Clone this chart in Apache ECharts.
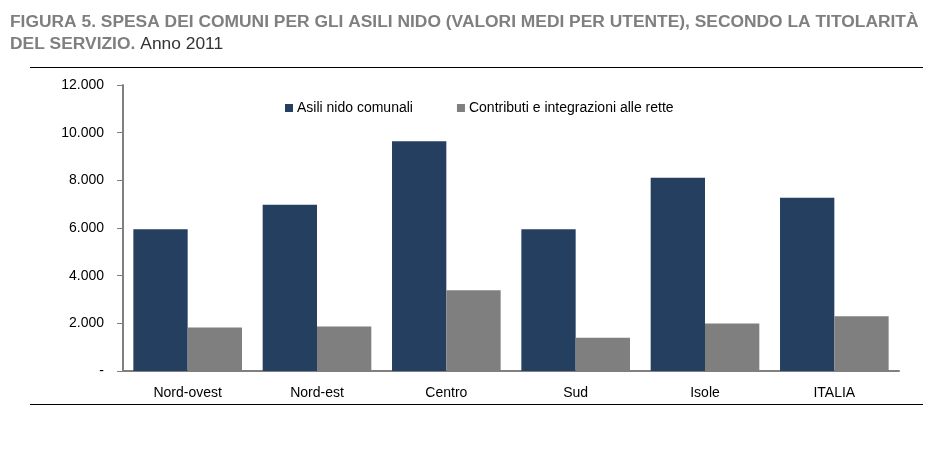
<!DOCTYPE html>
<html>
<head>
<meta charset="utf-8">
<script src="https://cdn.jsdelivr.net/npm/echarts@6/dist/echarts.min.js"></script>
<style>
html,body{margin:0;padding:0;background:#fff;}
#c{width:949px;height:460px;}
</style>
</head>
<body>
<div id="c"></div>
<script>
const categories = ['Nord-ovest', 'Nord-est', 'Centro', 'Sud', 'Isole', 'ITALIA'];
const seriesNames = ['Asili nido comunali', 'Contributi e integrazioni alle rette'];
const asiliComunali = [5950, 6980, 9640, 5950, 8110, 7270];
const contributi = [1820, 1870, 3390, 1400, 1990, 2300];
const yTicks = { min: 0, max: 12000, interval: 2000 };

const FONT = '"Liberation Sans Narrow", "Arial Narrow", "Liberation Sans", Arial, sans-serif';

function fmt(v) {
  if (v === 0) return '-';
  return String(v).replace(/\B(?=(\d{3})+(?!\d))/g, '.');
}

const chart = echarts.init(document.getElementById('c'), null, { renderer: 'canvas' });
chart.setOption({
  backgroundColor: '#fff',
  animation: false,
  title: {
    left: 5,
    top: 6,
    text: '{b|FIGURA 5. SPESA DEI COMUNI PER GLI ASILI NIDO (VALORI MEDI PER UTENTE), SECONDO LA TITOLARITÀ}\n{b|DEL SERVIZIO.} {n|Anno 2011}',
    textStyle: {
      fontFamily: FONT,
      lineHeight: 22,
      rich: {
        b: { fontFamily: FONT, fontWeight: 'bold', fontSize: 17.4, color: '#7f7f7f', lineHeight: 22 },
        n: { fontFamily: FONT, fontWeight: 'normal', fontSize: 17.4, color: '#333', lineHeight: 22 }
      }
    }
  },
  graphic: [
    { type: 'line', shape: { x1: 30, y1: 67.5, x2: 923, y2: 67.5 }, style: { stroke: '#000', lineWidth: 1.2 } },
    { type: 'line', shape: { x1: 30, y1: 404.5, x2: 923, y2: 404.5 }, style: { stroke: '#000', lineWidth: 1.2 } }
  ],
  legend: {
    top: 96,
    left: 280,
    itemWidth: 8,
    itemHeight: 8,
    itemGap: 44,
    icon: 'rect',
    textStyle: { fontFamily: FONT, fontSize: 14, color: '#000', padding: [0, 0, 0, -1] },
    data: seriesNames
  },
  grid: { left: 123, right: 50, top: 85, bottom: 89 },
  xAxis: {
    type: 'category',
    data: categories,
    axisLine: { lineStyle: { color: '#808080', width: 2 } },
    axisTick: { show: false },
    axisLabel: { fontFamily: FONT, fontSize: 14, color: '#000', margin: 15 }
  },
  yAxis: {
    type: 'value',
    min: yTicks.min,
    max: yTicks.max,
    interval: yTicks.interval,
    splitLine: { show: false },
    axisLine: { show: true, lineStyle: { color: '#808080', width: 2 } },
    axisTick: { show: true, length: 6, lineStyle: { color: '#808080', width: 1 } },
    axisLabel: { fontFamily: FONT, fontSize: 14, color: '#000', margin: 19, formatter: fmt }
  },
  series: [
    {
      name: seriesNames[0], type: 'bar', data: asiliComunali,
      itemStyle: { color: '#243f60' },
      barGap: '0%', barCategoryGap: '16%'
    },
    {
      name: seriesNames[1], type: 'bar', data: contributi,
      itemStyle: { color: '#7f7f7f' },
      barGap: '0%', barCategoryGap: '16%'
    }
  ]
});
</script>
</body>
</html>
